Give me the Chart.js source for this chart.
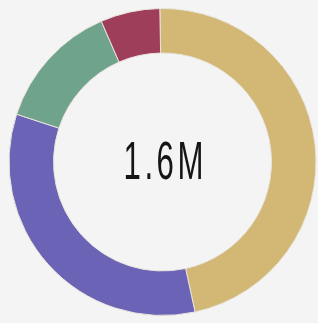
<!DOCTYPE html>
<html>
<head>
<meta charset="utf-8">
<script src="https://cdn.jsdelivr.net/npm/chart.js@4/dist/chart.umd.min.js"></script>
<style>
  html, body { margin: 0; padding: 0; background: #f4f4f4; }
  #wrap { width: 318px; height: 323px; position: relative; }
</style>
</head>
<body>
<div id="wrap"><canvas id="donut"></canvas></div>
<script>
const labels = ['Gold', 'Purple', 'Green', 'Maroon'];
const values = [750, 535, 215, 100];
const colors = ['#d2b775', '#6b63b5', '#6fa38c', '#9e3e5a'];
const centerLabel = '1.6M';

// narrow, spaced-out center label
const centerText = {
    id: 'centerText',
    afterDraw(chart) {
        const arc = chart.getDatasetMeta(0).data[0];
        const ctx = chart.ctx;
        ctx.save();
        ctx.font = '53px "Liberation Sans", Arimo, sans-serif';
        ctx.letterSpacing = '6px';
        const w = ctx.measureText(centerLabel).width - 6;
        const sx = 80 / w;
        ctx.translate(arc.x + 1, arc.y + 2);
        ctx.scale(sx, 1);
        ctx.fillStyle = '#151515';
        ctx.textAlign = 'left';
        ctx.textBaseline = 'middle';
        ctx.fillText(centerLabel, -w / 2, 0);
        ctx.restore();
    }
};

new Chart(document.getElementById('donut'), {
    type: 'doughnut',
    data: {
        labels: labels,
        datasets: [{
            data: values,
            backgroundColor: colors,
            borderColor: '#e8e4dc',
            borderWidth: 1
        }]
    },
    options: {
        responsive: true,
        maintainAspectRatio: false,
        animation: false,
        cutout: '71%',
        rotation: -1,
        layout: { padding: { left: 8, right: 1, top: 8, bottom: 7 } },
        plugins: {
            legend: { display: false },
            tooltip: { enabled: false }
        }
    },
    plugins: [centerText]
});
</script>
</body>
</html>
